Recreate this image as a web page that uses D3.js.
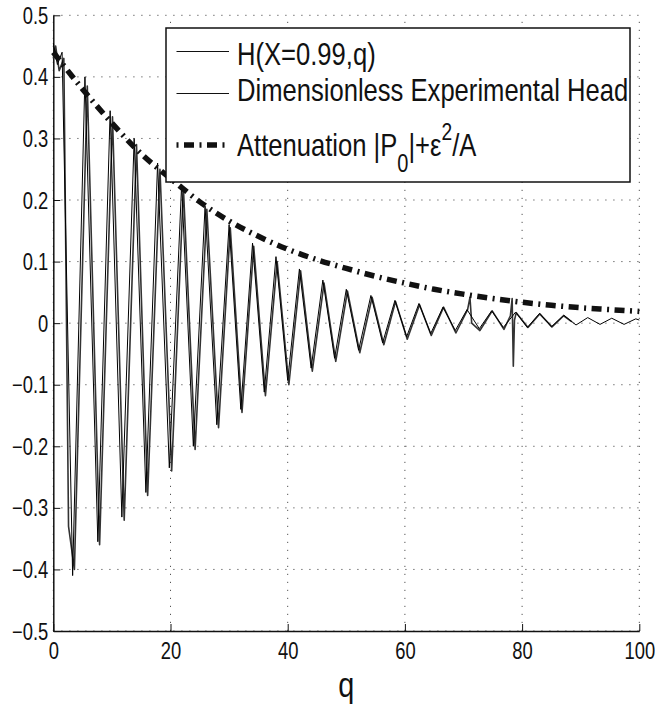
<!DOCTYPE html>
<html>
<head>
<meta charset="utf-8">
<script src="https://cdn.jsdelivr.net/npm/d3@7"></script>
<style>
    body { margin: 0; background: #fff; }
    svg { display: block; }
</style>
</head>
<body>
<div class="charts-div"></div>
<script>
// Tick values
const xTicks = [0, 20, 40, 60, 80, 100];
const yTicks = [-0.5, -0.4, -0.3, -0.2, -0.1, 0, 0.1, 0.2, 0.3, 0.4, 0.5];

// H(X=0.99,q) - turning points
const hQ = [0, 0.7, 1.5, 3.3, 5.4, 7.6, 9.7, 11.7, 13.8, 15.8, 17.8, 19.8, 21.9, 23.9, 25.9, 27.9, 30.0, 32.0, 34.0, 36.0,
    38.0, 40.0, 42.0, 44.0, 46.0, 48.0, 50.0, 52.1, 54.2, 56.2, 58.3, 60.3, 62.4, 64.4, 66.5, 68.6, 70.6, 72.7, 74.8, 76.8,
    78.9, 80.9, 83.0, 85.0, 87.1, 89.2, 91.2, 93.3, 95.3, 97.4, 99.4, 100];
const hVal = [0.455, 0.42, 0.44, -0.41, 0.40, -0.355, 0.345, -0.315, 0.30, -0.275, 0.26, -0.235, 0.225, -0.2, 0.19, -0.165, 0.16, -0.14, 0.13, -0.112,
    0.108, -0.093, 0.088, -0.073, 0.07, -0.057, 0.055, -0.044, 0.045, -0.032, 0.037, -0.022, 0.032, -0.017, 0.026, -0.012, 0.022, -0.009, 0.02, -0.007,
    0.018, -0.007, 0.016, -0.006, 0.013, -0.003, 0.009, -0.002, 0.008, -0.002, 0.007, 0.005];

// Dimensionless experimental head
const expQ = [0, 0.4, 1.0, 1.8, 2.6, 3.6, 5.8, 7.9, 10.1, 12.1, 14.2, 16.1, 18.2, 20.2, 22.2, 24.2, 26.2, 28.2, 30.2, 32.2,
    34.2, 36.2, 38.2, 40.2, 42.2, 44.2, 46.2, 48.2, 50.2, 52.3, 54.4, 56.4, 58.4, 60.4, 62.5, 64.5, 66.6, 68.7, 70.7, 71.1,
    71.4, 72.8, 74.9, 76.9, 78.0, 78.3, 78.5, 78.7, 79.0, 81.0, 83.0, 85.1, 87.1, 88.5];
const expVal = [0.43, 0.45, 0.41, 0.43, -0.33, -0.40, 0.385, -0.36, 0.335, -0.32, 0.29, -0.28, 0.25, -0.24, 0.22, -0.205, 0.185, -0.17, 0.155, -0.145,
    0.125, -0.118, 0.10, -0.1, 0.085, -0.078, 0.065, -0.062, 0.052, -0.048, 0.042, -0.035, 0.035, -0.026, 0.03, -0.02, 0.026, -0.016, 0.022, 0.042,
    0.0, -0.012, 0.02, -0.01, 0.012, 0.04, -0.07, 0.005, 0.017, -0.007, 0.015, -0.006, 0.012, 0.002];

// Attenuation |P0|+eps^2/A
const attQ = [0, 5, 10, 15, 20, 25, 30, 35, 40, 45, 50, 55, 60, 65, 70, 75, 80, 85, 90, 95, 100];
const attVal = [0.44, 0.38, 0.325, 0.275, 0.235, 0.197, 0.166, 0.141, 0.120, 0.103, 0.089, 0.076, 0.065, 0.055, 0.047, 0.040, 0.034, 0.029, 0.025, 0.022, 0.019];

const width = 655;
const height = 708;
const margins = { top: 15.3, right: 15.7, bottom: 77, left: 53.3 };
const narrow = 0.8; // condensed look of the original font
const font = "'Liberation Sans', Arial, sans-serif";
const ink = "#111";

const x = d3.scaleLinear().domain([0, 100]).range([margins.left, width - margins.right]);
const y = d3.scaleLinear().domain([-0.5, 0.5]).range([height - margins.bottom, margins.top]);

const svg = d3.select(".charts-div").append("svg").attr("width", width).attr("height", height);

// dotted grid
const grid = svg.append("g").attr("stroke", "#555").attr("stroke-width", 1).attr("stroke-dasharray", "1.2,6.8");
grid.selectAll(".gx").data(xTicks).join("line")
    .attr("x1", (d) => x(d)).attr("x2", (d) => x(d))
    .attr("y1", y(-0.5)).attr("y2", y(0.5));
grid.selectAll(".gy").data(yTicks).join("line")
    .attr("x1", x(0)).attr("x2", x(100))
    .attr("y1", (d) => y(d)).attr("y2", (d) => y(d));

// axes, ticks pointing in
const xAxis = svg.append("g")
    .attr("transform", `translate(0,${y(-0.5)})`)
    .call(d3.axisBottom(x).tickValues(xTicks).tickSizeInner(-7).tickSizeOuter(0).tickPadding(12));
const yAxis = svg.append("g")
    .attr("transform", `translate(${x(0)},0)`)
    .call(d3.axisLeft(y).tickValues(yTicks).tickSizeInner(-7).tickSizeOuter(0).tickPadding(5)
        .tickFormat((d) => (d === 0 ? "0" : d3.format(".1f")(d))));

[xAxis, yAxis].forEach((ax) => {
    ax.attr("font-family", font).attr("font-size", 23);
    ax.select(".domain").attr("stroke", ink).attr("stroke-width", 1.5);
    ax.selectAll(".tick line").attr("stroke", ink).attr("stroke-width", 1);
    ax.selectAll(".tick text").attr("fill", ink).attr("transform", `scale(${narrow},1)`);
});
yAxis.selectAll(".tick text").attr("x", -5 / narrow).attr("dy", "0.35em");

// x label
svg.append("text")
    .attr("transform", `translate(${(x(0) + x(100)) / 2},697) scale(${narrow},1)`)
    .attr("text-anchor", "middle")
    .attr("font-family", font).attr("font-size", 36).attr("fill", ink)
    .text("q");

// curves
const line = d3.line().x((d) => x(d[0])).y((d) => y(d[1]));
const hData = hQ.map((q, i) => [q, hVal[i]]);
const expData = expQ.map((q, i) => [q, expVal[i]]);
const attData = attQ.map((q, i) => [q, attVal[i]]);

svg.append("path").datum(expData)
    .attr("class", "visualPlotting")
    .attr("fill", "none").attr("stroke", "#333").attr("stroke-width", 1.6)
    .attr("stroke-linejoin", "round")
    .attr("d", line);
svg.append("path").datum(hData)
    .attr("class", "visualPlotting")
    .attr("fill", "none").attr("stroke", "#000").attr("stroke-width", 1)
    .attr("d", line);
svg.append("path").datum(attData)
    .attr("class", "visualPlotting")
    .attr("fill", "none").attr("stroke", ink).attr("stroke-width", 5.5)
    .attr("stroke-dasharray", "10,5.5,2,5.5")
    .attr("d", line.curve(d3.curveMonotoneX));

// legend
const legend = svg.append("g");
legend.append("rect")
    .attr("x", 166).attr("y", 28).attr("width", 464).attr("height", 154)
    .attr("fill", "#fff").attr("stroke", ink).attr("stroke-width", 1.5);

const legendRows = [
    { y: 51.5, base: 64.5, dash: null, width: 1.2 },
    { y: 93.5, base: 101, dash: null, width: 1.2 },
    { y: 145, base: 155.5, dash: "2,5.5,10,5.5", width: 5.5 }
];
legendRows.forEach((row) => {
    legend.append("line")
        .attr("x1", 176.5).attr("x2", 229).attr("y1", row.y).attr("y2", row.y)
        .attr("stroke", ink).attr("stroke-width", row.width)
        .attr("stroke-dasharray", row.dash);
});

const legendText = (base) =>
    legend.append("text")
        .attr("transform", `translate(237,${base}) scale(${narrow},1)`)
        .attr("font-family", font).attr("font-size", 32).attr("fill", ink);

legendText(legendRows[0].base).text("H(X=0.99,q)");
legendText(legendRows[1].base).text("Dimensionless Experimental Head");
const att = legendText(legendRows[2].base);
att.append("tspan").text("Attenuation |P");
att.append("tspan").attr("dy", 16).attr("font-size", 25).text("0");
att.append("tspan").attr("dy", -16).text("|+\u03b5");
att.append("tspan").attr("dy", -16).attr("font-size", 24).text("2");
att.append("tspan").attr("dy", 16).text("/A");
</script>
</body>
</html>
